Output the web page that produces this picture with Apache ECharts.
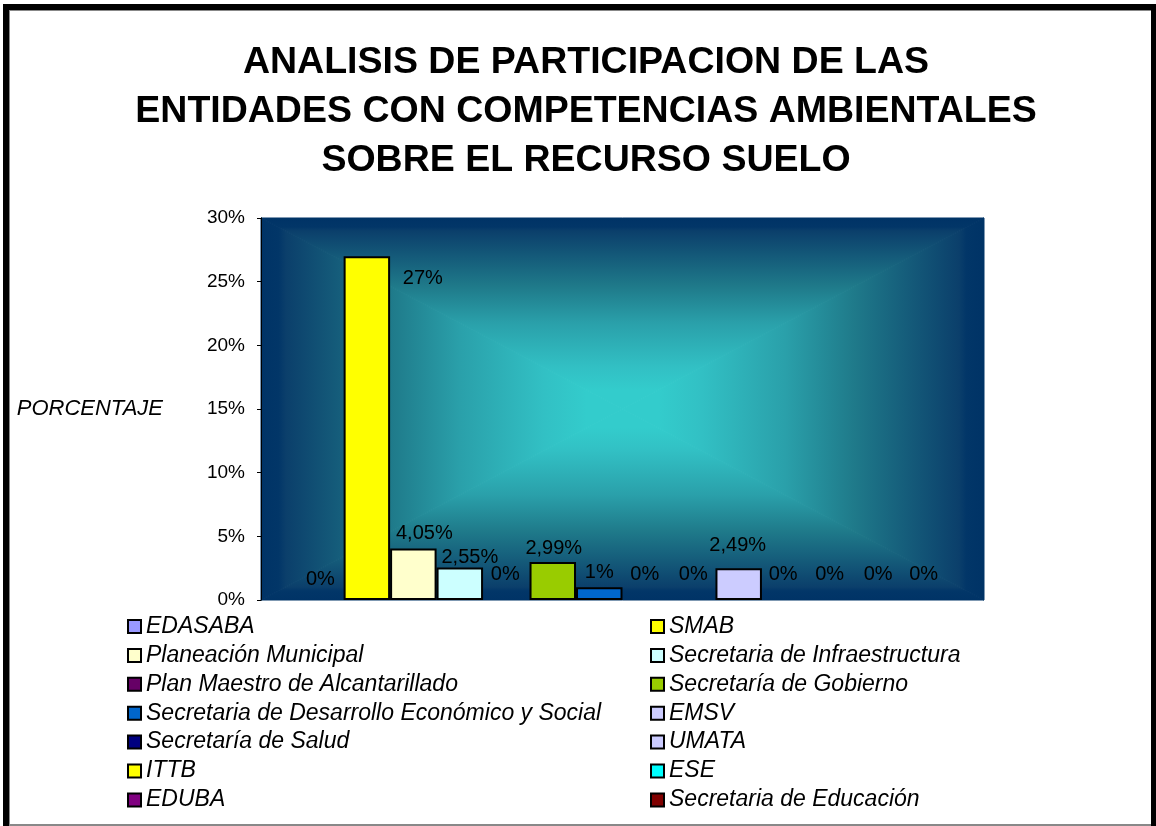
<!DOCTYPE html>
<html>
<head>
<meta charset="utf-8">
<script src="https://cdn.jsdelivr.net/npm/echarts@6/dist/echarts.min.js"></script>
<style>
  html, body { margin: 0; padding: 0; background: #fff; }
  #chart { width: 1156px; height: 826px; }
</style>
</head>
<body>
<div id="chart"></div>
<script>
// datos del grafico
var categories = [''];
var entityNames = [
    'EDASABA', 'SMAB',
    'Planeación Municipal', 'Secretaria de Infraestructura',
    'Plan Maestro de Alcantarillado', 'Secretaría de Gobierno',
    'Secretaria de Desarrollo Económico y Social', 'EMSV',
    'Secretaría de Salud', 'UMATA',
    'ITTB', 'ESE',
    'EDUBA', 'Secretaria de Educación'
];
var shareValues = [0, 27, 4.05, 2.55, 0, 2.99, 1, 0, 0, 2.49, 0, 0, 0, 0];
var yTicks = { min: 0, max: 30, step: 5 };

// estilos
var barColors = [
    '#9999FF', '#FFFF00', '#FFFFCC', '#CCFFFF', '#660066', '#99CC00', '#0066CC',
    '#CCCCFF', '#000080', '#CCCCFF', '#FFFF00', '#00FFFF', '#800080', '#800000'
];
// desplazamiento de cada etiqueta (como en la hoja original)
var labelNudge = [
    [0, -6], [56, 37], [11, 0], [10, 5], [-1, -11], [1, 2], [0, 0],
    [-1, -11], [1, -11], [-1, -8], [-2, -11], [-2, -11], [0, -11], [-1, -11]
];

var font = 'Arial, "Liberation Sans", sans-serif';
var plot = { left: 261, top: 218, right: 984, bottom: 600 };
var cx = (plot.left + plot.right) / 2, cy = (plot.top + plot.bottom) / 2;

function grad(x, y, x2, y2) {
    return new echarts.graphic.LinearGradient(x, y, x2, y2, [
        { offset: 0, color: '#003366' },
        { offset: 0.05, color: '#023668' },
        { offset: 0.07, color: '#0b3f6b' },
        { offset: 0.36, color: '#1f7a8a' },
        { offset: 0.55, color: '#2aa0aa' },
        { offset: 0.78, color: '#32c0c4' },
        { offset: 0.9, color: '#33cccc' },
        { offset: 1, color: '#33cccc' }
    ]);
}
function tri(points, g) {
    return { type: 'polygon', z: -10, shape: { points: points }, style: { fill: g, stroke: g, lineWidth: 1 } };
}

var myChart = echarts.init(document.getElementById('chart'));

var series = entityNames.map(function (name, i) {
    return {
        name: name,
        type: 'bar',
        barGap: '0%',
        barCategoryGap: '10%',
        animation: false,
        itemStyle: { color: barColors[i], borderColor: '#000', borderWidth: 2 },
        label: {
            show: true,
            position: 'top',
            offset: labelNudge[i],
            color: '#000',
            fontFamily: font,
            fontSize: 20,
            formatter: function (p) {
                return String(p.value).replace('.', ',') + '%';
            }
        },
        data: [shareValues[i]].map(function (v) {
            return v === 0 ? { value: v, itemStyle: { borderWidth: 0 } } : v;
        })
    };
});

var leftNames = entityNames.filter(function (n, i) { return i % 2 === 0; });
var rightNames = entityNames.filter(function (n, i) { return i % 2 === 1; });

function legendCol(names, left) {
    return {
        data: names,
        orient: 'vertical',
        left: left,
        top: 615,
        padding: 0,
        itemWidth: 13,
        itemHeight: 13,
        itemGap: 5.9,
        icon: 'rect',
        selectedMode: false,
        textStyle: { fontFamily: font, fontSize: 23, fontStyle: 'italic', color: '#000', lineHeight: 22 }
    };
}

var option = {
    backgroundColor: '#fff',
    legend: [legendCol(leftNames, 127), legendCol(rightNames, 650)],
    grid: {
        left: plot.left,
        top: plot.top,
        right: 1156 - plot.right,
        bottom: 826 - plot.bottom
    },
    xAxis: {
        type: 'category',
        data: categories,
        axisLine: { show: false },
        axisTick: { show: false },
        axisLabel: { show: false }
    },
    yAxis: {
        type: 'value',
        min: yTicks.min,
        max: yTicks.max,
        interval: yTicks.step,
        name: 'PORCENTAJE',
        nameLocation: 'middle',
        nameRotate: 0,
        nameGap: 98,
        nameTextStyle: { fontFamily: font, fontSize: 22, fontStyle: 'italic', color: '#000' },
        axisLine: { show: true, lineStyle: { color: '#000', width: 1 } },
        axisTick: { show: true, length: 4, lineStyle: { color: '#000' } },
        splitLine: { show: false },
        axisLabel: { margin: 16, fontFamily: font, fontSize: 19, color: '#000', formatter: '{value}%' }
    },
    graphic: [
        // fondo degradado rectangular del area de trazado
        tri([[plot.left, plot.top], [plot.right, plot.top], [cx, cy]], grad(0, 0, 0, 1)),
        tri([[plot.left, plot.bottom], [plot.right, plot.bottom], [cx, cy]], grad(0, 1, 0, 0)),
        tri([[plot.left, plot.top], [plot.left, plot.bottom], [cx, cy]], grad(0, 0, 1, 0)),
        tri([[plot.right, plot.top], [plot.right, plot.bottom], [cx, cy]], grad(1, 0, 0, 0)),
        // titulo
        {
            type: 'text', x: 586, y: 38,
            style: {
                text: 'ANALISIS DE PARTICIPACION DE LAS\nENTIDADES CON COMPETENCIAS AMBIENTALES\nSOBRE EL RECURSO SUELO',
                align: 'center',
                font: 'bold 37.5px ' + font,
                lineHeight: 49,
                fill: '#000'
            }
        },
        // marco
        { type: 'rect', shape: { x: 3, y: 4, width: 1153, height: 6 }, style: { fill: '#000' } },
        { type: 'rect', shape: { x: 3, y: 4, width: 6, height: 822 }, style: { fill: '#000' } },
        { type: 'rect', shape: { x: 1151, y: 4, width: 5, height: 822 }, style: { fill: '#000' } },
        { type: 'rect', shape: { x: 9, y: 10, width: 1142, height: 1 }, style: { fill: '#888' } },
        { type: 'rect', shape: { x: 9, y: 10, width: 1, height: 816 }, style: { fill: '#888' } },
        { type: 'rect', shape: { x: 9, y: 824, width: 1142, height: 2 }, style: { fill: '#888' } }
    ],
    series: series
};

myChart.setOption(option);
</script>
</body>
</html>
